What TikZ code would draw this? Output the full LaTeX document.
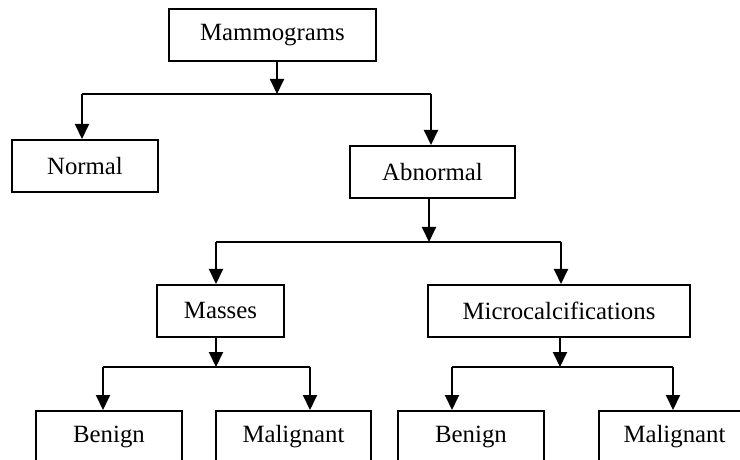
\documentclass[tikz,border=0pt]{standalone}
\usepackage{fontspec}
\setmainfont{Liberation Serif}
\usepackage{tikz}
\usetikzlibrary{arrows.meta}

\tikzset{
  catbox/.style={draw,line width=1pt,minimum height=26pt,inner sep=0pt,
    font=\fontsize{12.4}{15}\selectfont},
  arr/.style={line width=1pt,-{Triangle[width=7pt,length=7.5pt]}},
  bus/.style={line width=1pt}
}

\begin{document}
\begin{tikzpicture}[x=0.5pt,y=-0.5pt]
\clip (0,0) rectangle (740,460);

% boxes
\node[catbox,minimum width=103.5pt] (mam) at (272.5,35) {Mammograms};
\node[catbox,minimum width=73pt] (normal) at (85,166) {Normal};
\node[catbox,minimum width=82.5pt] (abn) at (432.5,172) {Abnormal};
\node[catbox,minimum width=63.5pt] (masses) at (220.5,311) {Masses};
\node[catbox,minimum width=131pt] (micro) at (559,311) {Microcalcifications};
\node[catbox,minimum width=73pt] (ben1) at (109,437) {Benign};
\node[catbox,minimum width=77.5pt] (mal1) at (293.5,437) {Malignant};
\node[catbox,minimum width=73pt] (ben2) at (471,437) {Benign};
\node[catbox,minimum width=75.5pt] (mal2) at (674.5,437) {Malignant};

% junctions
\coordinate (j1) at (277,94);  \coordinate (j1l) at (82,94);   \coordinate (j1r) at (431,94);
\coordinate (j2) at (429,242); \coordinate (j2l) at (216,242); \coordinate (j2r) at (561,242);
\coordinate (j3) at (216,367); \coordinate (j3l) at (103,367); \coordinate (j3r) at (310,367);
\coordinate (j4) at (560,367); \coordinate (j4l) at (452,367); \coordinate (j4r) at (673,367);

% level 1
\draw[arr] (mam.south -| j1) -- (j1);
\draw[bus] (j1l) -- (j1r);
\draw[arr] (j1l) -- (j1l |- normal.north);
\draw[arr] (j1r) -- (j1r |- abn.north);

% level 2
\draw[arr] (abn.south -| j2) -- (j2);
\draw[bus] (j2l) -- (j2r);
\draw[arr] (j2l) -- (j2l |- masses.north);
\draw[arr] (j2r) -- (j2r |- micro.north);

% level 3
\draw[arr] (masses.south -| j3) -- (j3);
\draw[bus] (j3l) -- (j3r);
\draw[arr] (j3l) -- (j3l |- ben1.north);
\draw[arr] (j3r) -- (j3r |- mal1.north);

\draw[arr] (micro.south -| j4) -- (j4);
\draw[bus] (j4l) -- (j4r);
\draw[arr] (j4l) -- (j4l |- ben2.north);
\draw[arr] (j4r) -- (j4r |- mal2.north);
\end{tikzpicture}
\end{document}
